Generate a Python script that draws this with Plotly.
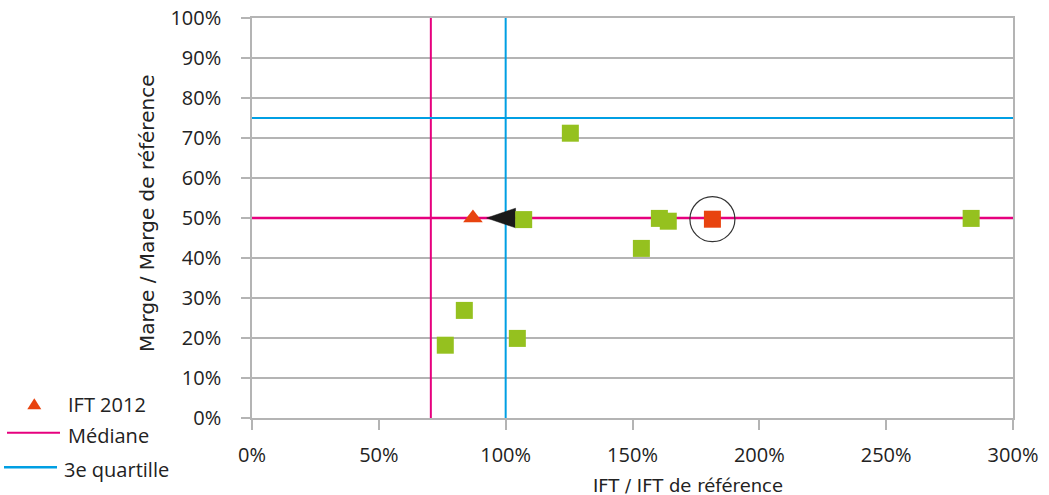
import plotly.graph_objects as go

# ---- data ----
ift_points = [125.5, 107.1, 160.6, 164.1, 153.5, 283.5, 83.7, 76.2, 104.6]
marge_points = [71.2, 49.6, 49.9, 49.2, 42.4, 49.9, 26.9, 18.2, 19.9]
farm_ift = [181.5]
farm_marge = [49.7]
ift2012_x = [87.1]
ift2012_y = [50.0]
arrow_tip_x = 92.5
arrow_base_x = 103.9
arrow_y = 50.0
arrow_half_h = 2.45
median_ift = 70.5
q3_ift = 100.0
median_marge = 50.0
q3_marge = 75.0
x_ticks = [0, 50, 100, 150, 200, 250, 300]
y_ticks = [0, 10, 20, 30, 40, 50, 60, 70, 80, 90, 100]
x_tick_labels = [f"{v}%" for v in x_ticks]
y_tick_labels = [f"{v}%" for v in y_ticks]
legend_labels = ["IFT 2012", "Médiane", "3e quartille"]

GREEN = "#95c11f"
ORANGE = "#e8430f"
MAGENTA = "#e6007e"
BLUE = "#009fe3"
GRID = "#b4b4b4"
TXT = "#222222"

W, H = 1049, 495
L, T = 252, 18
pw, ph = 761, 400
R = W - L - pw
B = H - T - ph


def px(xs):
    # screen x -> paper
    return (xs - L) / pw


def py(ys):
    # screen y -> paper
    return (T + ph - ys) / ph


fig = go.Figure()

# reference lines
fig.add_trace(go.Scatter(x=[median_ift, median_ift], y=[y_ticks[0], y_ticks[-1]], mode="lines",
                         line=dict(color=MAGENTA, width=2), hoverinfo="skip"))
fig.add_trace(go.Scatter(x=[q3_ift, q3_ift], y=[y_ticks[0], y_ticks[-1]], mode="lines",
                         line=dict(color=BLUE, width=2), hoverinfo="skip"))
fig.add_trace(go.Scatter(x=[x_ticks[0], x_ticks[-1]], y=[q3_marge, q3_marge], mode="lines",
                         line=dict(color=BLUE, width=2), hoverinfo="skip"))
fig.add_trace(go.Scatter(x=[x_ticks[0], x_ticks[-1]], y=[median_marge, median_marge], mode="lines",
                         line=dict(color=MAGENTA, width=2.5), hoverinfo="skip"))

# arrow
fig.add_trace(go.Scatter(x=[arrow_tip_x, arrow_base_x, arrow_base_x, arrow_tip_x],
                         y=[arrow_y, arrow_y + arrow_half_h, arrow_y - arrow_half_h, arrow_y],
                         mode="lines", fill="toself", fillcolor="#1a1a1a",
                         line=dict(color="#1a1a1a", width=0.5), hoverinfo="skip"))

# other farms
fig.add_trace(go.Scatter(x=ift_points, y=marge_points, mode="markers",
                         marker=dict(symbol="square", size=17, color=GREEN, line=dict(width=0))))
# the farm
fig.add_trace(go.Scatter(x=farm_ift, y=farm_marge, mode="markers",
                         marker=dict(symbol="square", size=17, color=ORANGE, line=dict(width=0))))
fig.add_trace(go.Scatter(x=farm_ift, y=farm_marge, mode="markers",
                         marker=dict(symbol="circle-open", size=45, color="#333333", line=dict(width=1.2))))
# IFT 2012
fig.add_trace(go.Scatter(x=ift2012_x, y=ift2012_y, mode="markers",
                         marker=dict(symbol="triangle-up", size=17, color=ORANGE, line=dict(width=0))))

tickfont = dict(family="Open Sans", size=20, color=TXT)

fig.update_layout(
    width=W, height=H,
    margin=dict(l=L, r=R, t=T, b=B, autoexpand=False),
    plot_bgcolor="white", paper_bgcolor="white",
    showlegend=False,
    xaxis=dict(range=[x_ticks[0], x_ticks[-1]], tickvals=x_ticks, ticktext=x_tick_labels,
               showgrid=False, zeroline=False, showline=True, linecolor=GRID, linewidth=1.5,
               mirror=True, ticks="outside", ticklen=10, tickcolor=GRID, tickwidth=1.5,
               tickfont=tickfont, ticklabelstandoff=8, automargin=False,
               ticklabeloverflow="allow"),
    yaxis=dict(range=[y_ticks[0], y_ticks[-1]], tickvals=y_ticks, ticktext=y_tick_labels,
               showgrid=True, gridcolor=GRID, gridwidth=1.5, zeroline=False, showline=True,
               linecolor=GRID, linewidth=1.5, mirror=True, ticks="outside", ticklen=9,
               tickcolor=GRID, tickwidth=1.5, tickfont=tickfont, ticklabelstandoff=16,
               automargin=False, ticklabeloverflow="allow"),
)

# axis titles
fig.add_annotation(text="IFT / IFT de référence", xref="paper", yref="paper",
                   x=px(688), y=py(485), xanchor="center", yanchor="middle", showarrow=False,
                   font=dict(family="DejaVu Sans", size=18, color=TXT))
fig.add_annotation(text="Marge / Marge de référence", xref="paper", yref="paper",
                   x=px(147), y=py(214), xanchor="center", yanchor="middle", showarrow=False,
                   textangle=-90, font=dict(family="DejaVu Sans", size=20, color=TXT))

# custom legend
fig.add_shape(type="path", xref="paper", yref="paper",
              path=f"M {px(34.3)},{py(398.3)} L {px(41.3)},{py(409.3)} L {px(27.3)},{py(409.3)} Z",
              fillcolor=ORANGE, line=dict(width=0))
fig.add_shape(type="line", xref="paper", yref="paper", x0=px(7), x1=px(60), y0=py(432.7), y1=py(432.7),
              line=dict(color=MAGENTA, width=2))
fig.add_shape(type="line", xref="paper", yref="paper", x0=px(4), x1=px(57), y0=py(467.3), y1=py(467.3),
              line=dict(color=BLUE, width=2.5))
for lab, xx, yy in zip(legend_labels, [66, 66, 62], [404, 435, 469]):
    fig.add_annotation(text=lab, xref="paper", yref="paper", x=px(xx), y=py(yy),
                       xanchor="left", yanchor="middle", showarrow=False,
                       font=dict(family="Open Sans", size=20, color=TXT))

fig.write_html("out.html", config={"displayModeBar": False},
               post_script="document.body.style.margin='0';document.body.style.padding='0';")
